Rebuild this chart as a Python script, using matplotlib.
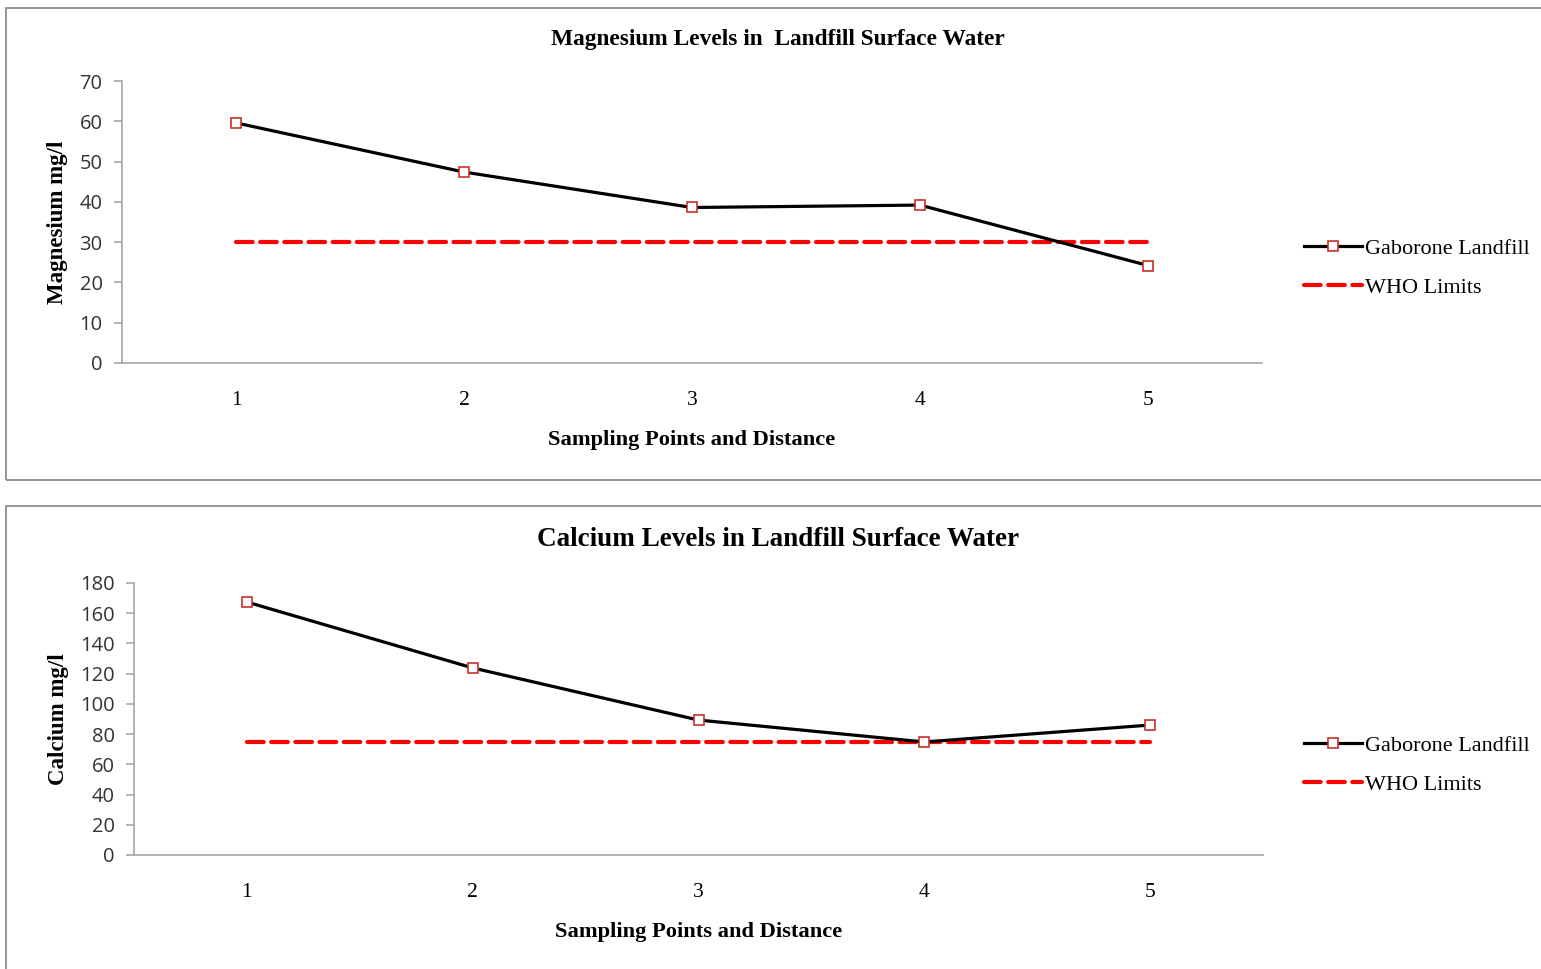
"""
Magnesium and calcium levels in Gaborone landfill surface water vs. WHO limits.
Two stacked line charts, each in its own bordered frame.
"""
import matplotlib

matplotlib.use("Agg")
import matplotlib.pyplot as plt
from matplotlib.patches import Rectangle

SAMPLING_POINTS = [1, 2, 3, 4, 5]

MAGNESIUM = [59.6, 47.4, 38.6, 39.2, 24.2]
MAGNESIUM_WHO = [30, 30, 30, 30, 30]

CALCIUM = [167.4, 123.8, 89.3, 74.8, 86.0]
CALCIUM_WHO = [75, 75, 75, 75, 75]

SERIF = "Liberation Serif"
SANS = "Open Sans"
W, H = 1541, 969


def fx(px):
    return px / W


def fy(py):
    return 1 - py / H


def draw_panel(fig, rect, values, who, ymax, ystep, ylabel, title, title_size, title_y, xlabel_y):
    ax = fig.add_axes(rect)
    ax.plot(SAMPLING_POINTS, values, color="black", linewidth=2.3, marker="s",
            markersize=7, markerfacecolor="white", markeredgecolor="#c8312b",
            markeredgewidth=1.2, label="Gaborone Landfill", zorder=3)
    ax.plot(SAMPLING_POINTS, who, color="red", linewidth=3, dashes=(4, 1.8),
            dash_capstyle="round", label="WHO Limits", zorder=2)

    ax.set_xlim(0.5, 5.5)
    ax.set_ylim(0, ymax)
    ax.set_yticks(range(0, ymax + 1, ystep))
    ax.set_xticks(SAMPLING_POINTS)
    ax.set_xticklabels([str(p) for p in SAMPLING_POINTS], fontfamily=SERIF, fontsize=15.5)
    for lbl in ax.get_yticklabels():
        lbl.set_fontfamily(SANS)
        lbl.set_fontsize(14.5)
        lbl.set_color("#333333")

    for side in ("top", "right"):
        ax.spines[side].set_visible(False)
    for side in ("left", "bottom"):
        ax.spines[side].set_color("#a6a6a6")
        ax.spines[side].set_linewidth(1.2)
    ax.tick_params(axis="y", length=6, color="#a6a6a6", width=1.2, pad=8)
    ax.tick_params(axis="x", length=0, pad=20)

    ax.set_ylabel(ylabel, fontfamily=SERIF, fontweight="bold", fontsize=16.5, labelpad=8)

    box = ax.get_position()
    xc = box.x0 + box.width / 2
    fig.text(fx(778), fy(title_y), title, ha="center", va="center",
             fontfamily=SERIF, fontweight="bold", fontsize=title_size)
    fig.text(xc, fy(xlabel_y), "Sampling Points and Distance", ha="center", va="center",
             fontfamily=SERIF, fontweight="bold", fontsize=16.2)
    return ax


def main():
    fig = plt.figure(figsize=(W / 100, H / 100), dpi=100)

    # frames around each chart
    fig.patches.append(Rectangle((fx(6), fy(480)), fx(1560 - 6), (480 - 8) / H,
                                 transform=fig.transFigure, fill=False,
                                 edgecolor="#8c8c8c", linewidth=1.3))
    fig.patches.append(Rectangle((fx(6), fy(985)), fx(1560 - 6), (985 - 506) / H,
                                 transform=fig.transFigure, fill=False,
                                 edgecolor="#8c8c8c", linewidth=1.3))

    ax1 = draw_panel(fig, [fx(122), fy(363), fx(1262 - 122), (363 - 81) / H],
                     MAGNESIUM, MAGNESIUM_WHO, 70, 10, "Magnesium mg/l",
                     "Magnesium Levels in  Landfill Surface Water", 16.8, 40, 440)
    ax2 = draw_panel(fig, [fx(134), fy(855), fx(1263 - 134), (855 - 583) / H],
                     CALCIUM, CALCIUM_WHO, 180, 20, "Calcium mg/l",
                     "Calcium Levels in Landfill Surface Water", 19.5, 540, 932)

    for ax, ly in ((ax1, 268), (ax2, 765)):
        fig.legend(*ax.get_legend_handles_labels(), loc="center left",
                   bbox_to_anchor=(fx(1295), fy(ly)), frameon=False,
                   prop={"family": SERIF, "size": 16}, handlelength=2.6,
                   handletextpad=0.15, labelspacing=0.85, borderaxespad=0)

    fig.savefig("out.png", dpi=100)
    plt.close(fig)


if __name__ == "__main__":
    main()
